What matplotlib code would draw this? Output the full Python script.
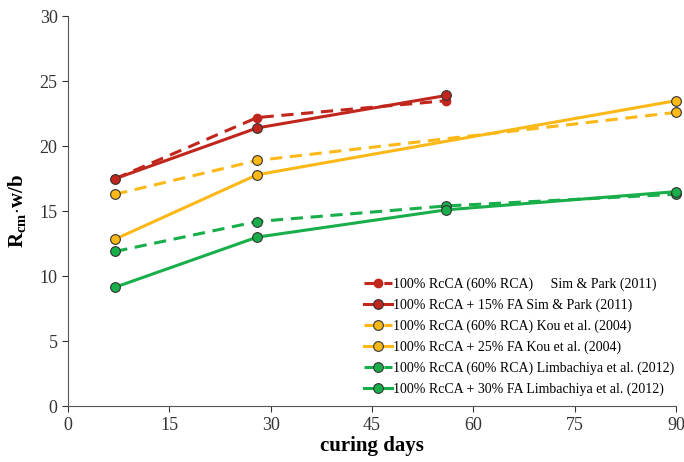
import matplotlib
matplotlib.use("Agg")
import matplotlib.pyplot as plt

plt.rcParams['font.family'] = ['Liberation Serif', 'DejaVu Serif']
plt.rcParams['mathtext.fontset'] = 'custom'
plt.rcParams['mathtext.rm'] = 'Liberation Serif'
plt.rcParams['mathtext.bf'] = 'Liberation Serif:bold'

days_sim = [7, 28, 56]
days_kou = [7, 28, 90]
days_lim = [7, 28, 56, 90]

sim_rca = [17.5, 22.2, 23.5]
sim_fa = [17.5, 21.4, 23.9]
kou_rca = [16.3, 18.9, 22.6]
kou_fa = [12.85, 17.8, 23.5]
lim_rca = [11.9, 14.2, 15.4, 16.3]
lim_fa = [9.15, 13.0, 15.1, 16.5]

labels = [
    "100% RcCA (60% RCA)     Sim & Park (2011)",
    "100% RcCA + 15% FA Sim & Park (2011)",
    "100% RcCA (60% RCA) Kou et al. (2004)",
    "100% RcCA + 25% FA Kou et al. (2004)",
    "100% RcCA (60% RCA) Limbachiya et al. (2012)",
    "100% RcCA + 30% FA Limbachiya et al. (2012)",
]

red = "#C1261D"
yellow = "#FBB817"
green = "#18AE4A"

fig = plt.figure(figsize=(6.84, 4.62), dpi=100)
ax = fig.add_axes([0.0994, 0.121, 0.889, 0.844])

common = dict(lw=2.2, marker='o', clip_on=False)
ax.plot(days_sim, sim_rca, '--', color=red, ms=6,
        mfc=red, mec=red, dashes=(4, 2.5), label=labels[0], **common)
ax.plot(days_sim, sim_fa, '-', color=red, ms=7,
        mfc=red, mec='#333333', mew=0.8, label=labels[1], **common)
ax.plot(days_kou, kou_rca, '--', color=yellow, ms=7,
        mfc=yellow, mec='#333333', mew=0.8, dashes=(4, 2.5), label=labels[2], **common)
ax.plot(days_kou, kou_fa, '-', color=yellow, ms=7,
        mfc=yellow, mec='#333333', mew=0.8, label=labels[3], **common)
ax.plot(days_lim, lim_rca, '--', color=green, ms=7,
        mfc=green, mec='#333333', mew=0.8, dashes=(4, 2.5), label=labels[4], **common)
ax.plot(days_lim, lim_fa, '-', color=green, ms=7,
        mfc=green, mec='#333333', mew=0.8, label=labels[5], **common)

ax.set_xlim(0, 90)
ax.set_ylim(0, 30)
ax.set_xticks(range(0, 91, 15))
ax.set_yticks(range(0, 31, 5))
ax.spines['top'].set_visible(False)
ax.spines['right'].set_visible(False)
for s in ['left', 'bottom']:
    ax.spines[s].set_color('#555555')
ax.tick_params(direction='out', labelsize=13, colors='#333333', length=4)
ax.set_xlabel("curing days", fontsize=15, fontweight='bold', labelpad=2)
ax.set_ylabel(r"$\mathbf{R_{cm}}$$\mathbf{\cdot w/b}$", fontsize=15, labelpad=8)

ax.legend(loc='lower right', bbox_to_anchor=(1.013, 0.0), frameon=False,
          fontsize=10, handlelength=2.0, handletextpad=0.1,
          labelspacing=0.55, borderaxespad=0.3)

fig.savefig("out.png", dpi=100)
